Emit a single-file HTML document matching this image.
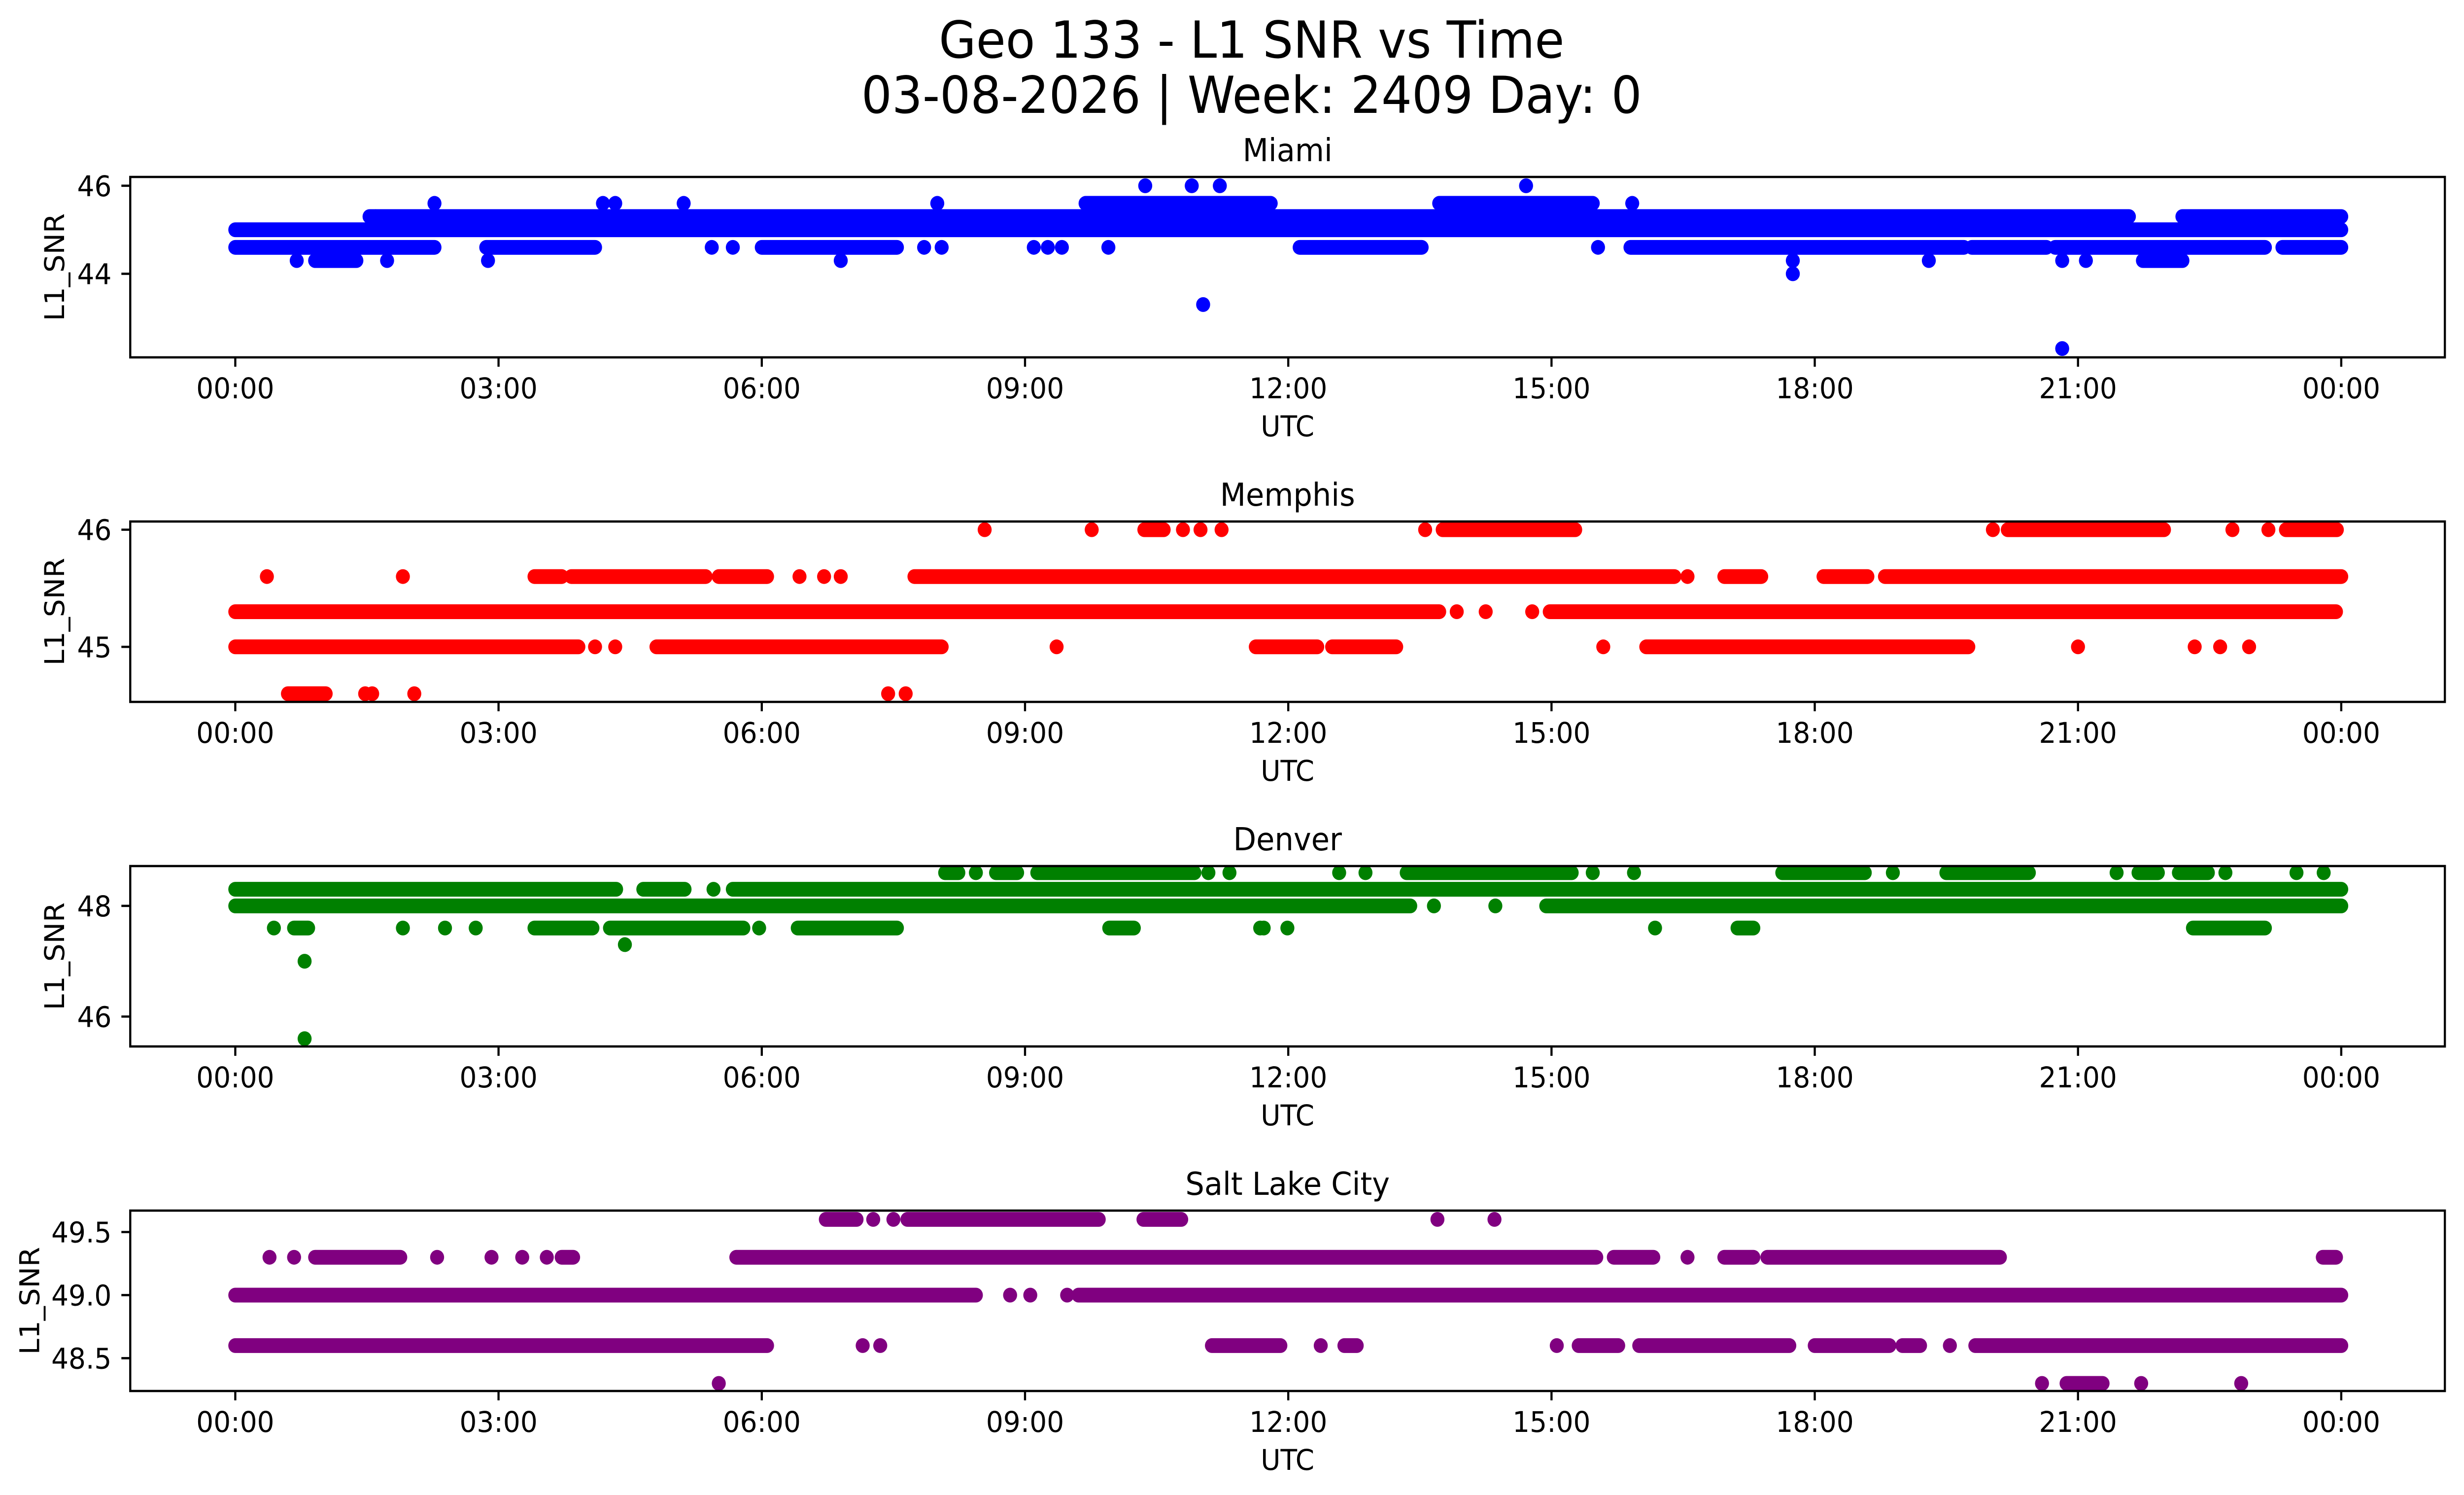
<!DOCTYPE html>
<html>
<head>
<meta charset="utf-8">
<style>
  html,body{margin:0;padding:0;background:#fff;overflow:hidden;width:100%;height:100%;}
  svg{display:block;width:100vw;height:100vh;}
  text{font-family:"DejaVu Sans","Liberation Sans",sans-serif;fill:#000;}
</style>
</head>
<body>
<svg id="fig" xmlns="http://www.w3.org/2000/svg" viewBox="0 0 5278 3033" preserveAspectRatio="none">
  <rect x="0" y="0" width="5278" height="3033" fill="#fff"/>
  <text x="2681" y="117" font-size="103" text-anchor="middle">Geo 133 - L1 SNR vs Time</text>
  <text x="2681" y="229" font-size="103" text-anchor="middle">03-08-2026 | Week: 2409 Day: 0</text>
</svg>
<script>
// ---- shared x axis data ----
const xTickHours = [0, 3, 6, 9, 12, 15, 18, 21, 24];
const xTickLabels = ["00:00","03:00","06:00","09:00","12:00","15:00","18:00","21:00","00:00"];

// ---- Miami ----
const miamiRuns = [
  [45.0, 0, 24],
  [45.3, 1.53, 21.58], [45.3, 22.19, 24],
  [45.6, 9.69, 11.8], [45.6, 13.72, 15.47],
  [44.6, 0, 2.27], [44.6, 2.86, 4.1], [44.6, 6.0, 7.54], [44.6, 12.13, 13.52],
  [44.6, 15.9, 19.7], [44.6, 19.79, 20.64], [44.6, 20.74, 23.13], [44.6, 23.33, 24],
  [44.3, 0.91, 1.38], [44.3, 21.74, 22.19]
];
const miamiPoints = [
  [45.3, 1.6],
  [45.6, 2.27], [45.6, 4.19], [45.6, 4.33], [45.6, 5.11], [45.6, 8.0], [45.6, 15.92],
  [46, 10.37], [46, 10.9], [46, 11.22], [46, 14.71],
  [44.6, 5.43], [44.6, 5.67], [44.6, 7.85], [44.6, 8.05], [44.6, 9.1], [44.6, 9.26], [44.6, 9.42], [44.6, 9.95], [44.6, 15.53],
  [44.3, 0.7], [44.3, 1.73], [44.3, 2.88], [44.3, 6.9], [44.3, 17.75], [44.3, 19.3], [44.3, 20.82], [44.3, 21.09],
  [44.0, 17.75], [43.3, 11.03], [42.3, 20.82]
];
const miamiYTicks = [44, 46];
const miamiYLabels = ["44", "46"];

// ---- Memphis ----
const memphisRuns = [
  [46, 10.36, 10.58], [46, 13.76, 15.27], [46, 20.2, 21.98], [46, 23.37, 23.95],
  [45.6, 3.41, 3.72], [45.6, 3.83, 5.36], [45.6, 5.51, 6.06], [45.6, 7.74, 16.4],
  [45.6, 16.97, 17.39], [45.6, 18.1, 18.6], [45.6, 18.8, 24],
  [45.3, 0, 13.72], [45.3, 14.98, 23.94],
  [45.0, 0, 3.91], [45.0, 4.8, 8.05], [45.0, 11.63, 12.33], [45.0, 12.5, 13.23], [45.0, 16.08, 19.75],
  [44.6, 0.6, 1.03]
];
const memphisPoints = [
  [46, 8.54], [46, 9.76], [46, 10.8], [46, 11.0], [46, 11.24], [46, 13.56], [46, 20.03], [46, 22.76], [46, 23.17],
  [45.6, 0.36], [45.6, 1.91], [45.6, 6.43], [45.6, 6.71], [45.6, 6.9], [45.6, 16.55],
  [45.3, 13.92], [45.3, 14.25], [45.3, 14.78],
  [45.0, 4.1], [45.0, 4.33], [45.0, 9.36], [45.0, 15.59], [45.0, 21.0], [45.0, 22.33], [45.0, 22.62], [45.0, 22.95],
  [44.6, 1.48], [44.6, 1.56], [44.6, 2.04], [44.6, 7.44], [44.6, 7.64]
];
const memphisYTicks = [45, 46];
const memphisYLabels = ["45", "46"];

// ---- Denver ----
const denverRuns = [
  [48.6, 8.09, 8.24], [48.6, 8.67, 8.91], [48.6, 9.14, 10.93], [48.6, 13.35, 15.23],
  [48.6, 17.63, 18.57], [48.6, 19.5, 20.44], [48.6, 21.69, 21.91], [48.6, 22.15, 22.48],
  [48.3, 0, 4.34], [48.3, 4.65, 5.12], [48.3, 5.67, 24],
  [48.0, 0, 13.39], [48.0, 14.94, 24],
  [47.6, 0.67, 0.83], [47.6, 3.41, 4.07], [47.6, 4.27, 5.79], [47.6, 6.41, 7.54],
  [47.6, 9.96, 10.24], [47.6, 17.12, 17.3], [47.6, 22.31, 23.13]
];
const denverPoints = [
  [48.6, 8.44], [48.6, 11.09], [48.6, 11.33], [48.6, 12.58], [48.6, 12.88], [48.6, 15.47], [48.6, 15.94],
  [48.6, 18.89], [48.6, 21.44], [48.6, 22.68], [48.6, 23.49], [48.6, 23.8],
  [48.3, 5.45], [48.0, 13.66], [48.0, 14.36],
  [47.6, 0.44], [47.6, 1.91], [47.6, 2.39], [47.6, 2.74], [47.6, 5.97], [47.6, 11.68], [47.6, 11.72], [47.6, 11.99], [47.6, 16.18],
  [47.3, 4.44], [47.0, 0.79], [45.6, 0.79]
];
const denverYTicks = [46, 48];
const denverYLabels = ["46", "48"];

// ---- Salt Lake City ----
const slcRuns = [
  [49.6, 6.73, 7.08], [49.6, 7.66, 9.84], [49.6, 10.35, 10.78],
  [49.3, 0.91, 1.88], [49.3, 3.72, 3.85], [49.3, 5.71, 15.51], [49.3, 15.71, 16.16],
  [49.3, 16.97, 17.3], [49.3, 17.46, 20.11], [49.3, 23.79, 23.94],
  [49.0, 0, 8.44], [49.0, 9.61, 24],
  [48.6, 0, 6.06], [48.6, 11.13, 11.91], [48.6, 12.64, 12.78], [48.6, 15.31, 15.76], [48.6, 16.0, 17.71],
  [48.6, 18.0, 18.85], [48.6, 19.0, 19.2], [48.6, 19.83, 24],
  [48.3, 20.87, 21.28]
];
const slcPoints = [
  [49.6, 7.27], [49.6, 7.5], [49.6, 13.7], [49.6, 14.35],
  [49.3, 0.39], [49.3, 0.67], [49.3, 2.3], [49.3, 2.92], [49.3, 3.27], [49.3, 3.55], [49.3, 16.55],
  [49.0, 8.83], [49.0, 9.06], [49.0, 9.48],
  [48.6, 7.15], [48.6, 7.35], [48.6, 12.37], [48.6, 15.06], [48.6, 19.54],
  [48.3, 5.51], [48.3, 20.59], [48.3, 21.72], [48.3, 22.86]
];
const slcYTicks = [48.5, 49.0, 49.5];
const slcYLabels = ["48.5", "49.0", "49.5"];

// ---- layout ----
const NS = "http://www.w3.org/2000/svg";
const svg = document.getElementById("fig");
const AX_L = 279, AX_R = 5237, AX_H = 366;
const X0 = 504, PX_PER_H = 187.96;
function xScale(h) { return X0 + h * PX_PER_H; }

const panels = [
  {key:"miami", title:"Miami", top:359, ymin:42.1, ymax:46.2, color:"#0000ff", runs:miamiRuns, points:miamiPoints, yt:miamiYTicks, yl:miamiYLabels, ylabX:118},
  {key:"memphis", title:"Memphis", top:1058, ymin:44.53, ymax:46.07, color:"#ff0000", runs:memphisRuns, points:memphisPoints, yt:memphisYTicks, yl:memphisYLabels, ylabX:118},
  {key:"denver", title:"Denver", top:1757, ymin:45.46, ymax:48.72, color:"#008000", runs:denverRuns, points:denverPoints, yt:denverYTicks, yl:denverYLabels, ylabX:118},
  {key:"salt-lake-city", title:"Salt Lake City", top:2456, ymin:48.24, ymax:49.67, color:"#800080", runs:slcRuns, points:slcPoints, yt:slcYTicks, yl:slcYLabels, ylabX:65}
];

function mk(tag, attrs, parent) {
  const el = document.createElementNS(NS, tag);
  for (const k in attrs) el.setAttribute(k, attrs[k]);
  parent.appendChild(el);
  return el;
}

panels.forEach(function(p) {
  const g = mk("g", {}, svg);
  
  
  const top = p.top, bot = p.top + AX_H;
  const yScale = function(v) { return top + (p.ymax - v) / (p.ymax - p.ymin) * AX_H; };

  const cp = mk("clipPath", {id: "clip-" + p.key}, g);
  mk("rect", {x: AX_L, y: top, width: AX_R - AX_L, height: AX_H}, cp);
  const marks = mk("g", {"clip-path": "url(#clip-" + p.key + ")"}, g);
  
  

  p.runs.forEach(function(r) {
    const ln = mk("line", {x1: xScale(r[1]), x2: xScale(r[2]), y1: yScale(r[0]), y2: yScale(r[0]),
      stroke: p.color, "stroke-width": 30, "stroke-linecap": "round"}, marks);
    
    
  });
  p.points.forEach(function(pt) {
    const c = mk("circle", {cx: xScale(pt[1]), cy: yScale(pt[0]), r: 15, fill: p.color}, marks);
    
    
  });

  const fr = mk("rect", {x: AX_L, y: top, width: AX_R - AX_L, height: AX_H, fill: "none", stroke: "#000", "stroke-width": 4.6}, g);
  
  

  xTickHours.forEach(function(h, i) {
    const x = xScale(h);
    const t = mk("line", {x1: x, x2: x, y1: bot, y2: bot + 19, stroke: "#000", "stroke-width": 4.6}, g);
    
    
    const lb = mk("text", {x: x, y: bot + 83, "font-size": 58, "text-anchor": "middle"}, g);
    lb.textContent = xTickLabels[i];
    
    
  });
  p.yt.forEach(function(v, i) {
    const y = yScale(v);
    const t = mk("line", {x1: AX_L - 19, x2: AX_L, y1: y, y2: y, stroke: "#000", "stroke-width": 4.6}, g);
    
    
    const lb = mk("text", {x: AX_L - 40, y: y + 21, "font-size": 58, "text-anchor": "end"}, g);
    lb.textContent = p.yl[i];
    
    
  });
  const xl = mk("text", {x: (AX_L + AX_R) / 2, y: bot + 160, "font-size": 58, "text-anchor": "middle"}, g);
  xl.textContent = "UTC";
  
  
  const cy = top + AX_H / 2;
  const yl = mk("text", {x: p.ylabX, y: cy, "font-size": 58, "text-anchor": "middle", "dominant-baseline": "central",
    transform: "rotate(-90 " + p.ylabX + " " + cy + ")"}, g);
  yl.textContent = "L1_SNR";
  
  
  const tt = mk("text", {x: (AX_L + AX_R) / 2, y: top - 32, "font-size": 64, "text-anchor": "middle"}, g);
  tt.textContent = p.title;
  
  
});
</script>
</body>
</html>
